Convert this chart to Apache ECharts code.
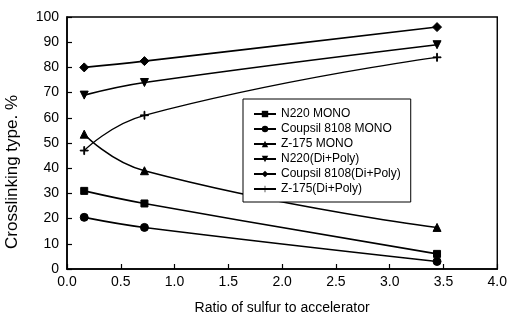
<!DOCTYPE html>
<html>
<head>
<meta charset="utf-8">
<script src="https://cdn.jsdelivr.net/npm/echarts@6/dist/echarts.min.js"></script>
<style>html,body{margin:0;padding:0;background:#fff;}#c{width:510px;height:320px;}</style>
</head>
<body>
<div id="c"></div>
<script>
var xValues = [0.16, 0.72, 3.44];
var seriesNames = ['N220 MONO', 'Coupsil 8108 MONO', 'Z-175 MONO', 'N220(Di+Poly)', 'Coupsil 8108(Di+Poly)', 'Z-175(Di+Poly)'];
var n220Mono = [31, 26, 6];
var coupsilMono = [20.5, 16.5, 3];
var z175Mono = [53.5, 39, 16.5];
var n220DiPoly = [69, 74, 89];
var coupsilDiPoly = [80, 82.5, 96];
var z175DiPoly = [47, 61, 84];
var xTicks = [0, 0.5, 1, 1.5, 2, 2.5, 3, 3.5, 4];
var yTicks = [0, 10, 20, 30, 40, 50, 60, 70, 80, 90, 100];
var xTitle = 'Ratio of sulfur to accelerator';
var yTitle = 'Crosslinking type. %';

var allValues = [n220Mono, coupsilMono, z175Mono, n220DiPoly, coupsilDiPoly, z175DiPoly];
var symbols = ['rect', 'circle', 'triangle', 'triangle', 'diamond',
  'path://M4.5,0L5.5,0L5.5,4.5L10,4.5L10,5.5L5.5,5.5L5.5,10L4.5,10L4.5,5.5L0,5.5L0,4.5L4.5,4.5Z'];
var rotates = [0, 0, 0, 180, 0, 0];
var sizes = [7, 8, 8, 8, 9, 8];
var smoothness = [0.4, 0.4, 0.5, 0.4, 0.4, 0.5];

function pairs(vals) { return xValues.map(function (x, i) { return [x, vals[i]]; }); }

var series = seriesNames.map(function (name, k) {
  return {
    name: name,
    type: 'line',
    data: pairs(allValues[k]),
    smooth: smoothness[k],
    symbol: symbols[k],
    symbolRotate: rotates[k],
    symbolSize: sizes[k],
    showAllSymbol: true,
    lineStyle: { color: '#000', width: k === 5 ? 1.3 : 1.6 },
    itemStyle: { color: '#000', borderColor: '#000' },
    emphasis: { disabled: true },
    animation: false
  };
});

var chart = echarts.init(document.getElementById('c'), null, { renderer: 'canvas' });
chart.setOption({
  animation: false,
  backgroundColor: '#fff',
  textStyle: { fontFamily: 'Liberation Sans, Arial, sans-serif' },
  grid: { left: 67, right: 12, top: 17, bottom: 43, show: true, borderColor: '#000', borderWidth: 1.4 },
  legend: {
    orient: 'vertical',
    left: 243, top: 99,
    padding: [9, 10, 7, 10],
    itemGap: 3,
    itemWidth: 22,
    itemHeight: 8,
    borderColor: '#000', borderWidth: 1,
    backgroundColor: '#fff',
    textStyle: { fontSize: 12, color: '#000', fontFamily: 'Liberation Sans, Arial, sans-serif' },
    data: seriesNames
  },
  xAxis: {
    type: 'value', min: xTicks[0], max: xTicks[xTicks.length - 1], interval: 0.5,
    name: xTitle, nameLocation: 'middle', nameGap: 32,
    nameTextStyle: { fontSize: 14, color: '#000' },
    axisLine: { lineStyle: { color: '#000', width: 1.6 } },
    axisTick: { inside: true, length: 5, lineStyle: { color: '#000', width: 1.2 } },
    axisLabel: { fontSize: 14, color: '#000', margin: 6, formatter: function (v) { return v.toFixed(1); } },
    splitLine: { show: false }
  },
  yAxis: {
    type: 'value', min: yTicks[0], max: yTicks[yTicks.length - 1], interval: 10,
    axisLine: { show: true, lineStyle: { color: '#000', width: 1.6 } },
    axisTick: { show: true, inside: true, length: 5, lineStyle: { color: '#000', width: 1.2 } },
    axisLabel: { fontSize: 14, color: '#000', margin: 8 },
    splitLine: { show: false }
  },
  graphic: [{
    type: 'text', x: 12, y: 172, rotation: Math.PI / 2,
    style: { text: yTitle, fontSize: 17, fill: '#000', align: 'center', verticalAlign: 'middle',
      fontFamily: 'Liberation Sans, Arial, sans-serif' }
  }],
  series: series
});
</script>
</body>
</html>
